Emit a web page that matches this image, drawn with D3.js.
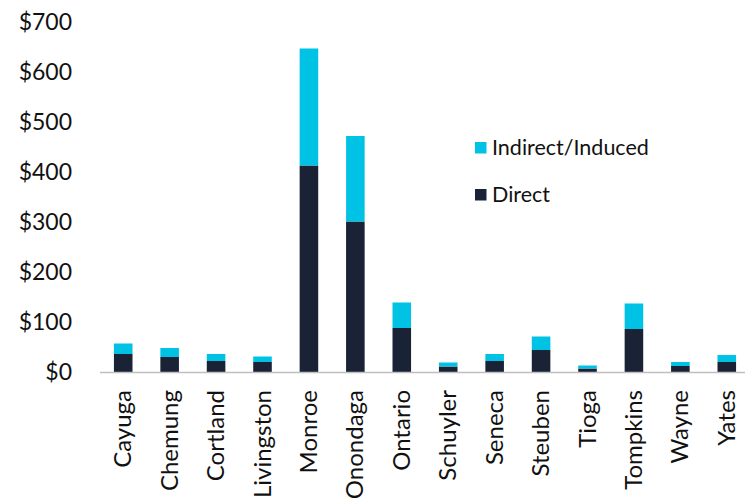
<!DOCTYPE html>
<html>
<head>
<meta charset="utf-8">
<script src="https://cdn.jsdelivr.net/npm/d3@7"></script>
<style>
  body { margin: 0; background: #fff; }
  svg text { font-family: Lato, "Open Sans", sans-serif; fill: #111; }
</style>
</head>
<body>
<div id="chart"></div>
<script>
// county names along the x axis
const counties = ['Cayuga','Chemung','Cortland','Livingston','Monroe','Onondaga','Ontario',
                  'Schuyler','Seneca','Steuben','Tioga','Tompkins','Wayne','Yates'];
// direct impact ($M)
const direct = [36, 30, 22, 20, 413, 301, 88, 11, 22, 44, 7, 86, 12, 20];
// indirect / induced impact ($M), stacked on top
const indirect = [21, 18, 14, 11, 234, 171, 51, 8, 14, 27, 6, 51, 8, 14];
const yTicks = [0, 100, 200, 300, 400, 500, 600, 700];
const seriesNames = ['Indirect/Induced', 'Direct'];
const colors = { 'Direct': '#1a2236', 'Indirect/Induced': '#00c2e5' };

let width = 745, height = 498;
let margin = { left: 100, right: -5, top: 22, bottom: 126 };

let svg = d3.select('#chart').append('svg')
    .attr('width', width)
    .attr('height', height);

let x = d3.scaleBand()
    .domain(counties)
    .range([margin.left, width - margin.right])
    .paddingInner(0.6)
    .paddingOuter(0.3);

let y = d3.scaleLinear()
    .domain([0, 700])
    .range([height - margin.bottom, margin.top]);

let data = counties.map(function(c, i){
    return { county: c, direct: direct[i], indirect: indirect[i] };
});

// y axis labels only, no line
svg.selectAll('.ylabel')
    .data(yTicks)
  .enter().append('text')
    .attr('class', 'ylabel')
    .attr('x', 72)
    .attr('y', function(d){ return y(d); })
    .attr('dy', '0.35em')
    .style('text-anchor', 'end')
    .style('font-size', '23px')
    .text(function(d){ return '$' + d; });

// direct bars
svg.selectAll('.bar-direct')
    .data(data)
  .enter().append('rect')
    .attr('class', 'bar-direct')
    .attr('x', function(d){ return x(d.county); })
    .attr('width', x.bandwidth())
    .attr('y', function(d){ return y(d.direct); })
    .attr('height', function(d){ return y(0) - y(d.direct); })
    .attr('fill', colors['Direct']);

// indirect bars on top
svg.selectAll('.bar-indirect')
    .data(data)
  .enter().append('rect')
    .attr('class', 'bar-indirect')
    .attr('x', function(d){ return x(d.county); })
    .attr('width', x.bandwidth())
    .attr('y', function(d){ return y(d.direct + d.indirect); })
    .attr('height', function(d){ return y(d.direct) - y(d.direct + d.indirect); })
    .attr('fill', colors['Indirect/Induced']);

// baseline
svg.append('line')
    .attr('x1', margin.left)
    .attr('x2', width)
    .attr('y1', y(0) + 0.5)
    .attr('y2', y(0) + 0.5)
    .attr('stroke', '#bfbfbf')
    .attr('stroke-width', 1.5);

// rotated county labels
svg.selectAll('.xlabel')
    .data(counties)
  .enter().append('text')
    .attr('class', 'xlabel')
    .attr('transform', function(d){
      return 'translate(' + (x(d) + x.bandwidth() / 2 + 8) + ',390) rotate(-90)';
    })
    .style('text-anchor', 'end')
    .style('font-size', '24px')
    .text(function(d){ return d; });

// legend
let legend = svg.selectAll('.legend')
    .data(seriesNames)
  .enter().append('g')
    .attr('class', 'legend')
    .attr('transform', function(d, i){ return 'translate(475,' + (142 + i * 47) + ')'; });

legend.append('rect')
    .attr('width', 11.5)
    .attr('height', 11.5)
    .attr('fill', function(d){ return colors[d]; });

legend.append('text')
    .attr('x', 17)
    .attr('y', 13)
    .style('font-size', '21.5px')
    .text(function(d){ return d; });
</script>
</body>
</html>
